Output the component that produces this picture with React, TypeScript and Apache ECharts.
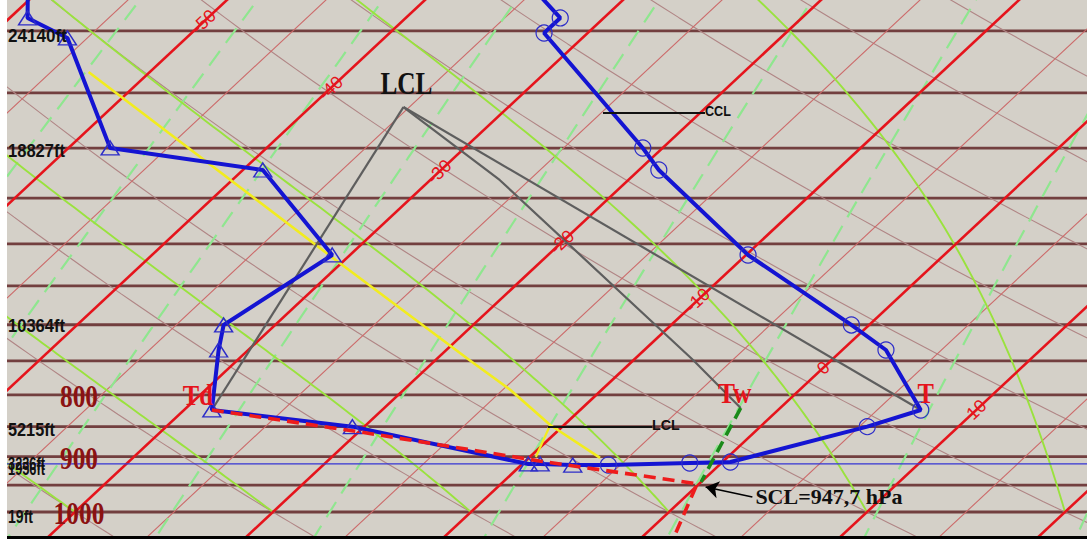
import React, { useEffect, useRef } from "react";
import * as echarts from "echarts";

// ---- frame of the skew-T / log-p diagram ----
const T_LEFT = -33.43; // °C at the left edge on the 1000 hPa line
const T_RIGHT = 21.11; // °C at the right edge on the 1000 hPa line
const P_TOP = 377.1; // hPa at the top edge
const P_BOTTOM = 1046.8; // hPa at the bottom edge
const SKEW = 28.38; // isotherm shift, °C per unit of ln(1000/p)

// ---- reference lines ----
const isobars = [400, 450, 500, 550, 600, 650, 700, 750, 800, 850, 900, 950, 1000];
const isothermsMajor = [-60, -50, -40, -30, -20, -10, 0, 10, 20];
const isothermsMinor = [-65, -55, -45, -35, -25, -15, -5, 5, 15, 25];
const dryAdiabats = [-40, -30, -20, -10, 0, 10, 20, 30, 40, 50, 60, 70, 80, 90];
const moistAdiabats = [-40, -30, -20, -10, 0, 10, 20, 30];
const mixingRatios = [0.0625, 0.125, 0.25, 0.5, 1, 2, 4, 8, 16, 32];
const isothermLabels = [-50, -40, -30, -20, -10, 0, 10];
const isothermLabelP = [393, 446, 523, 598, 668, 760, 823];
const pressureLabels = ["800", "900", "1000"];
const pressureLabelP = [800, 900, 1000];
const heightLabels = ["24140ft", "18827ft", "10364ft", "5215ft", "3236ft", "1956ft", "19ft"];
const heightLabelP = [403.9, 502.8, 701.7, 855.4, 912.6, 921.4, 1007.7];
const heightLabelRight = [67, 65, 65, 55, 45, 45, 33];
const surfaceP = 912.6;

// ---- sounding ----
const tempP = [914.4, 910.9, 909.2, 850, 823.4, 734.5, 700.3, 612.9, 521.3, 499.9, 401.6, 390.2, 368.6];
const tempC = [-5.6, -1.6, 0.4, 5.4, 7.2, 2.2, -0.9, -9.9, -19.0, -21.0, -32.2, -32.2, -35.2];
const dewP = [368.6, 390.2, 405.4, 499.9, 521.3, 612.9, 700.3, 734.5, 823.4, 850, 912.6, 912.6, 914.4];
const dewC = [-60.7, -59.1, -56.0, -47.9, -39.0, -30.9, -32.6, -31.5, -28.6, -20.6, -9.7, -9.1, -7.4];

// parcel trace (yellow)
const parcelP = [432.5, 616.4, 748.6, 792.6, 847.3, 902.2];
const parcelC = [-53.1, -30.7, -18.3, -14.6, -10.7, -6.4];
const parcelBranchP = [847.3, 900.5];
const parcelBranchC = [-10.7, -9.7];

// LCL construction
const lclP = 462.4;
const lclC = -35.3;
const twPathP = [462.4, 531.3, 748.6, 820.3];
const twPathC = [-35.3, -26.5, -7.0, -2.0];
const sclP = 947.7;
const sclPathP = [823.4, 858.7, 907.4, sclP, 1054.8];
const sclPathC = [-28.6, -19.9, -9.3, -0.1, 1.7];
const descentP = [820.3, 944.5];
const descentC = [-2.0, 0.0];
const arrowP = [971.8, 953.5];
const arrowC = [3.4, 0.5];

const L = (p: number) => Math.log(1000 / p);
const pt = (t: number, p: number) => [t + SKEW * L(p), L(p)];

const sampleP: number[] = [];
for (let p = 350; p <= 1070; p += 10) sampleP.push(p);

function satVap(tc: number) {
  return 6.112 * Math.exp((17.67 * tc) / (tc + 243.5));
}
function dewFromMix(w: number, p: number) {
  const e = (w * p) / (622 + w);
  const a = Math.log(e / 6.112);
  return (243.5 * a) / (17.67 - a);
}
function moistLapse(p: number, tk: number) {
  const Rd = 287.04, Lv = 2.501e6, cp = 1005.7, eps = 0.622;
  const es = satVap(tk - 273.15);
  const rs = (eps * es) / (p - es);
  return (Rd * tk + Lv * rs) / (cp + (Lv * Lv * rs * eps) / (Rd * tk * tk)) / p;
}
function moistCurve(thetaW: number) {
  const pts: number[][] = [];
  let p = 1000;
  let tk = thetaW + 273.15;
  pts.push(pt(thetaW, p));
  const dp = -5;
  while (p > P_TOP - 30) {
    const k1 = moistLapse(p, tk);
    const k2 = moistLapse(p + dp / 2, tk + (k1 * dp) / 2);
    const k3 = moistLapse(p + dp / 2, tk + (k2 * dp) / 2);
    const k4 = moistLapse(p + dp, tk + k3 * dp);
    tk += (dp * (k1 + 2 * k2 + 2 * k3 + k4)) / 6;
    p += dp;
    pts.push(pt(tk - 273.15, p));
  }
  return pts;
}

const bg = (data: number[][], lineStyle: any, z: number) => ({
  type: "line",
  data,
  symbol: "none",
  silent: true,
  clip: true,
  z,
  lineStyle,
});

function buildOption() {
  const series: any[] = [];
  const xLo = T_LEFT - 5;
  const xHi = T_RIGHT + 5;

  isobars.forEach((p) =>
    series.push(bg([[xLo, L(p)], [xHi, L(p)]], { color: "#723f3f", width: 2.8 }, 1))
  );
  dryAdiabats.forEach((th) =>
    series.push(
      bg(
        sampleP.map((p) => pt((th + 273.15) * Math.pow(p / 1000, 0.2857) - 273.15, p)),
        { color: "#b08585", width: 1.1 },
        2
      )
    )
  );
  isothermsMinor.forEach((t) =>
    series.push(bg([pt(t, 1080), pt(t, 340)], { color: "#cc6a6a", width: 1.1 }, 2))
  );
  mixingRatios.forEach((w) =>
    series.push(
      bg(
        sampleP.map((p) => pt(dewFromMix(w, p), p)),
        { color: "#8fe68f", width: 2.2, type: [18, 10] },
        3
      )
    )
  );
  moistAdiabats.forEach((tw) =>
    series.push(bg(moistCurve(tw), { color: "#9ae23e", width: 1.9 }, 4))
  );
  isothermsMajor.forEach((t) =>
    series.push(bg([pt(t, 1080), pt(t, 340)], { color: "#e5141c", width: 2.6 }, 5))
  );
  series.push(bg([[xLo, L(surfaceP)], [xHi, L(surfaceP)]], { color: "#3434d4", width: 1.3 }, 6));

  // parcel trace
  series.push(bg(parcelP.map((p, i) => pt(parcelC[i], p)), { color: "#f2ec1e", width: 2.6 }, 8));
  series.push(bg(parcelBranchP.map((p, i) => pt(parcelBranchC[i], p)), { color: "#f2ec1e", width: 2.2 }, 8));

  // LCL construction (grey)
  const grey = { color: "#5e5e5e", width: 2.2 };
  series.push(bg([pt(dewC[8], dewP[8]), pt(lclC, lclP)], grey, 9));
  series.push(bg([pt(lclC, lclP), pt(tempC[4], tempP[4])], grey, 9));
  series.push(bg(twPathP.map((p, i) => pt(twPathC[i], p)), grey, 9));

  // sounding: dew point (triangles) and temperature (circles)
  series.push({
    type: "line",
    data: dewP.map((p, i) => pt(dewC[i], p)),
    symbol: "triangle",
    symbolSize: [18, 14],
    clip: true,
    silent: true,
    z: 10,
    lineStyle: { color: "#1414d2", width: 4 },
    itemStyle: { color: "rgba(0,0,0,0)", borderColor: "#2c2cc8", borderWidth: 1.4 },
  });
  series.push({
    type: "line",
    data: [
      { value: pt(dewC[dewC.length - 1], dewP[dewP.length - 1]), symbol: "none" },
      ...tempP.map((p, i) => pt(tempC[i], p)),
    ],
    symbol: "circle",
    symbolSize: 16,
    clip: true,
    silent: true,
    z: 10,
    lineStyle: { color: "#1414d2", width: 4 },
    itemStyle: { color: "rgba(0,0,0,0)", borderColor: "#2c2cc8", borderWidth: 1.2 },
  });

  // SCL construction
  series.push(bg(sclPathP.map((p, i) => pt(sclPathC[i], p)), { color: "#ee1c1c", width: 3.6, type: [12, 7] }, 12));
  series.push(bg(descentP.map((p, i) => pt(descentC[i], p)), { color: "#1a8a1a", width: 3.6, type: [12, 7] }, 12));
  series.push({
    type: "lines",
    coordinateSystem: "cartesian2d",
    silent: true,
    z: 13,
    symbol: ["none", "arrow"],
    symbolSize: 13,
    lineStyle: { color: "#000", width: 1.6, opacity: 1 },
    data: [{ coords: [pt(arrowC[0], arrowP[0]), pt(arrowC[1], arrowP[1])] }],
  });

  return {
    animation: false,
    grid: {
      left: 7,
      right: 0,
      top: 0,
      bottom: 6,
      show: true,
      backgroundColor: "#d4d0c8",
      borderWidth: 0,
    },
    xAxis: { type: "value", min: T_LEFT, max: T_RIGHT, show: false },
    yAxis: { type: "value", min: L(P_BOTTOM), max: L(P_TOP), show: false },
    series,
  };
}

export default function App() {
  const ref = useRef<HTMLDivElement>(null);
  useEffect(() => {
    const chart = echarts.init(ref.current!, null, { renderer: "svg" });
    chart.setOption(buildOption());
    const px = (t: number, p: number) => chart.convertToPixel({ gridIndex: 0 }, pt(t, p)) as number[];
    const yOf = (p: number) => px(0, p)[1];
    const serif = '"Liberation Serif", "Times New Roman", serif';
    const sans = '"Liberation Sans", Arial, sans-serif';
    const graphic: any[] = [];

    isothermLabels.forEach((t, i) => {
      const [x, y] = px(t, isothermLabelP[i]);
      graphic.push({
        type: "text", x, y, rotation: (43 * Math.PI) / 180, z: 50,
        style: { text: String(t), fill: "#e5141c", fontSize: 18, fontFamily: sans, align: "center", verticalAlign: "middle" },
      });
    });
    pressureLabels.forEach((s, i) => {
      graphic.push({
        type: "text", x: 79, y: yOf(pressureLabelP[i]) + 2, scaleX: 0.82, z: 50,
        style: { text: s, fill: "#8b1212", fontSize: 31, fontWeight: "bold", fontFamily: serif, align: "center", verticalAlign: "middle" },
      });
    });
    // altitude labels, squeezed so each one fits between the frame and its right edge
    const measure = (s: string) => echarts.format.getTextRect
      ? (echarts.format as any).getTextRect(s, `bold 18px ${sans}`).width
      : s.length * 9;
    heightLabels.forEach((s, i) => {
      const room = heightLabelRight[i] - 8;
      const w = measure(s) || s.length * 9;
      const sx = Math.min(0.95, room / w);
      graphic.push({
        type: "text", x: heightLabelRight[i], y: yOf(heightLabelP[i]), scaleX: sx, z: 50,
        style: { text: s, fill: "#111", fontSize: 18, fontWeight: "bold", fontFamily: sans, align: "right", verticalAlign: "middle" },
      });
    });

    const [lx, ly] = px(lclC, lclP);
    graphic.push({
      type: "text", x: lx + 3, y: ly - 24, scaleX: 0.79, z: 50,
      style: { text: "LCL", fill: "#111", fontSize: 32, fontWeight: "bold", fontFamily: serif, align: "center", verticalAlign: "middle" },
    });
    const [tdx, tdy] = px(dewC[8], dewP[8]);
    graphic.push({
      type: "text", x: tdx - 14, y: tdy - 15, scaleX: 0.82, z: 50,
      style: { text: "Td", fill: "#e5141c", fontSize: 30, fontWeight: "bold", fontFamily: serif, align: "center", verticalAlign: "middle" },
    });
    const [tx, ty] = px(tempC[4], tempP[4]);
    graphic.push({
      type: "text", x: tx + 5, y: ty - 17, scaleX: 0.82, z: 50,
      style: { text: "T", fill: "#e5141c", fontSize: 30, fontWeight: "bold", fontFamily: serif, align: "center", verticalAlign: "middle" },
    });
    const [wx, wy] = px(twPathC[3], twPathP[3]);
    graphic.push({
      type: "text", x: wx - 6, y: wy - 15, scaleX: 0.85, z: 50,
      style: { text: "Tw", fill: "#e5141c", fontSize: 30, fontWeight: "bold", fontFamily: serif, align: "center", verticalAlign: "middle" },
    });

    // CCL and LCL pointers
    graphic.push({ type: "line", z: 50, shape: { x1: 603, y1: 113, x2: 705, y2: 113 }, style: { stroke: "#111", lineWidth: 2 } });
    graphic.push({
      type: "text", x: 705, y: 111, scaleX: 0.9, z: 50,
      style: { text: "CCL", fill: "#111", fontSize: 14, fontWeight: "bold", fontFamily: sans, align: "left", verticalAlign: "middle" },
    });
    graphic.push({ type: "line", z: 50, shape: { x1: 548, y1: 427, x2: 652, y2: 427 }, style: { stroke: "#111", lineWidth: 2 } });
    graphic.push({
      type: "text", x: 652, y: 425, scaleX: 0.95, z: 50,
      style: { text: "LCL", fill: "#111", fontSize: 15, fontWeight: "bold", fontFamily: sans, align: "left", verticalAlign: "middle" },
    });
    const [ax, ay] = px(arrowC[0], arrowP[0]);
    graphic.push({
      type: "text", x: ax + 3, y: ay, z: 50,
      style: { text: "SCL=947,7 hPa", fill: "#111", fontSize: 22, fontWeight: "bold", fontFamily: serif, align: "left", verticalAlign: "middle" },
    });

    // frame
    graphic.push({ type: "rect", z: 40, shape: { x: 0, y: 0, width: 7, height: 542 }, style: { fill: "#fff" } });
    graphic.push({ type: "rect", z: 40, shape: { x: 7, y: 536, width: 1080, height: 3 }, style: { fill: "#000" } });

    chart.setOption({ graphic });
    return () => chart.dispose();
  }, []);
  return (
    <div
      ref={ref}
      style={{ position: "fixed", left: 0, top: 0, width: 1087, height: 542, background: "#fff" }}
    />
  );
}
